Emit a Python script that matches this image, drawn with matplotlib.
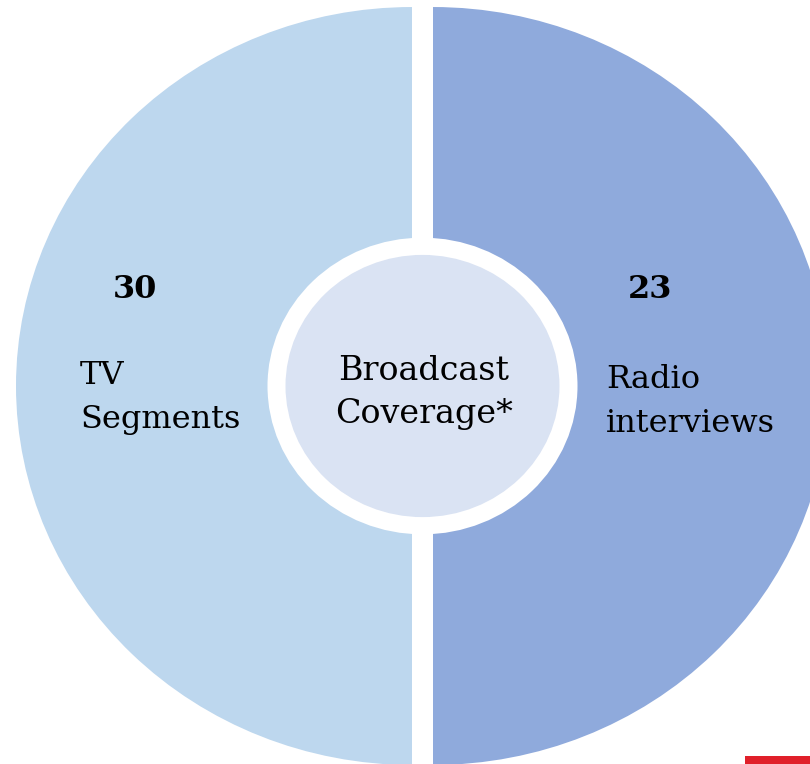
import matplotlib.pyplot as plt
from matplotlib.patches import Wedge, Circle, Rectangle

# segments of the broadcast coverage graphic
labels = ['TV\nSegments', 'Radio\ninterviews']
counts = [30, 23]
colors = ['#BDD7EE', '#8FAADC']
centre_title = 'Broadcast\nCoverage*'

W, H = 810, 764
squash = 0.957  # the drawing is slightly flattened vertically

fig = plt.figure(figsize=(W / 100, H / 100), dpi=100)
ax = fig.add_axes([0, 0, 1, 1])
ax.set_xlim(0, W)
ax.set_ylim(H / squash, 0)
ax.axis('off')

cy = 386 / squash
R = 396
# two halves pulled apart, left one and right one
halves = [(412, 90, 270), (433, -90, 90)]
for (cx, t1, t2), col in zip(halves, colors):
    ax.add_patch(Wedge((cx, cy), R, t1, t2, facecolor=col, edgecolor='none'))

# centre disc with white ring
ax.add_patch(Circle((422.5, cy), 155, facecolor='white', edgecolor='none'))
ax.add_patch(Circle((422.5, cy), 137, facecolor='#DAE3F3', edgecolor='none'))

# red strip bottom right
ax.add_patch(Rectangle((745, 756 / squash), 70, 20, facecolor='#E0202A',
                       edgecolor='none'))

def px(x, y):
    return x / W, 1 - y / H

font = 'DejaVu Serif'
# baselines given for the last line of each label
num_pos = [(135, 298), (650, 298)]
lab_pos = [(80, 428), (606, 432)]
for n, lab, (nx, ny), (lx, ly) in zip(counts, labels, num_pos, lab_pos):
    fig.text(*px(nx, ny), str(n), family=font, fontsize=23, fontweight='bold',
             ha='center', va='baseline')
    fig.text(*px(lx, ly), lab, family=font, fontsize=23, ha='left',
             va='baseline', linespacing=1.55)

fig.text(*px(424, 423), centre_title, family=font, fontsize=24,
         ha='center', va='baseline', linespacing=1.45)

fig.savefig('out.png', dpi=100)
